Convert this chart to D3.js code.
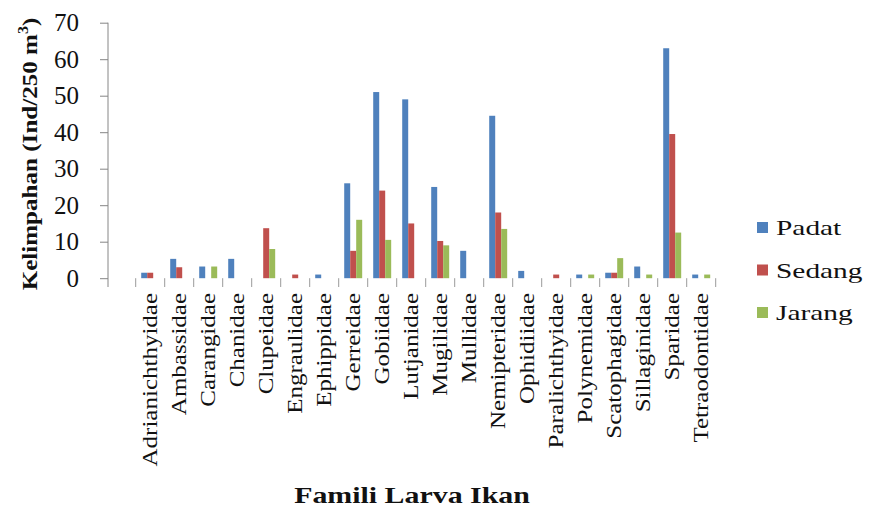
<!DOCTYPE html>
<html>
<head>
<meta charset="utf-8">
<script src="https://cdn.jsdelivr.net/npm/d3@7"></script>
<style>
  body { margin: 0; background: #fff; }
  svg { display: block; font-family: "Liberation Serif", "Times New Roman", serif; }
</style>
</head>
<body>
<svg id="chart" width="869" height="509"></svg>
<script>
// Data
const families = ['Adrianichthyidae', 'Ambassidae', 'Carangidae', 'Chanidae', 'Clupeidae',
  'Engraulidae', 'Ephippidae', 'Gerreidae', 'Gobiidae', 'Lutjanidae', 'Mugilidae', 'Mullidae',
  'Nemipteridae', 'Ophidiidae', 'Paralichthyidae', 'Polynemidae', 'Scatophagidae',
  'Sillaginidae', 'Sparidae', 'Tetraodontidae'];
const seriesNames = ['Padat', 'Sedang', 'Jarang'];
const padat  = [1.5, 5.3, 3.2, 5.3, 0, 0, 1, 26, 51, 49, 25, 7.5, 44.5, 2, 0, 1, 1.5, 3.2, 63, 1];
const sedang = [1.5, 3, 0, 0, 13.7, 1, 0, 7.5, 24, 15, 10.2, 0, 18, 0, 1, 0, 1.5, 0, 39.5, 0];
const jarang = [0, 0, 3.2, 0, 8, 0, 0, 16, 10.5, 0, 9, 0, 13.5, 0, 0, 1, 5.5, 1, 12.5, 1];
const yTicks = [0, 10, 20, 30, 40, 50, 60, 70];

const colors = ['#4f81bd', '#c0504d', '#9bbb59'];
const values = [padat, sedang, jarang];

const svg = d3.select('#chart');

// Scales
const x = d3.scaleBand().domain(families).range([135.7, 715.7]);
const x1 = d3.scaleBand().domain(seriesNames).range([0, x.bandwidth()]).paddingOuter(0.92);
const y = d3.scaleLinear().domain([0, 70]).range([278.2, 22.7]);
const color = d3.scaleOrdinal().domain(seriesNames).range(colors);

// Y axis
const yAxis = svg.append('g')
  .attr('transform', 'translate(108,0)')
  .call(d3.axisLeft(y).tickValues(yTicks).tickSize(8).tickPadding(21).tickSizeOuter(0));
yAxis.select('.domain').remove();
yAxis.selectAll('line').attr('stroke', '#868686');
yAxis.selectAll('text')
  .attr('font-family', '"Liberation Serif", serif')
  .attr('font-size', 25)
  .attr('fill', '#111');
svg.append('line')
  .attr('x1', 108).attr('x2', 108)
  .attr('y1', y(70)).attr('y2', 287)
  .attr('stroke', '#868686');

// Category ticks (at band edges)
const edges = families.map(f => x(f)).concat([x.range()[1]]);
svg.append('g').selectAll('line')
  .data(edges)
  .join('line')
  .attr('x1', d => d).attr('x2', d => d)
  .attr('y1', y(0)).attr('y2', 287)
  .attr('stroke', '#9a9a9a');

// Bars
const groups = svg.append('g').selectAll('g')
  .data(families)
  .join('g')
  .attr('transform', d => `translate(${x(d)},0)`);

groups.selectAll('rect')
  .data((f, i) => seriesNames.map((s, k) => ({ s, v: values[k][i] })))
  .join('rect')
  .attr('x', d => x1(d.s))
  .attr('width', x1.bandwidth())
  .attr('y', d => y(d.v))
  .attr('height', d => y(0) - y(d.v))
  .attr('fill', d => color(d.s));

// Category labels, rotated
svg.append('g').selectAll('text')
  .data(families)
  .join('text')
  .attr('transform', d => `translate(${x(d) + x.bandwidth() / 2},293) rotate(-90) scale(1.25,1)`)
  .attr('text-anchor', 'end')
  .attr('dy', '0.35em')
  .attr('font-size', 20)
  .attr('fill', '#111')
  .text(d => d);

// Axis titles
const yTitle = svg.append('text')
  .attr('transform', 'translate(37,154) rotate(-90) scale(1.14,1)')
  .attr('text-anchor', 'middle')
  .attr('font-size', 22)
  .attr('font-weight', 'bold')
  .attr('fill', '#111');
yTitle.append('tspan').text('Kelimpahan (Ind/250 m');
yTitle.append('tspan').attr('font-size', 14).attr('dy', -9).text('3');
yTitle.append('tspan').attr('dy', 9).text(')');

svg.append('text')
  .attr('transform', 'translate(412,503) scale(1.3,1)')
  .attr('text-anchor', 'middle')
  .attr('font-size', 23)
  .attr('font-weight', 'bold')
  .attr('fill', '#111')
  .text('Famili Larva Ikan');

// Legend
const legend = svg.append('g').selectAll('g')
  .data(seriesNames)
  .join('g')
  .attr('transform', (d, i) => `translate(757,${228 + i * 42.5})`);
legend.append('rect')
  .attr('x', 0).attr('y', -6)
  .attr('width', 11).attr('height', 11)
  .attr('fill', d => color(d));
legend.append('text')
  .attr('transform', 'translate(19,0) scale(1.4,1)')
  .attr('dy', '0.35em')
  .attr('font-size', 21)
  .attr('fill', '#111')
  .text(d => d);
</script>
</body>
</html>
